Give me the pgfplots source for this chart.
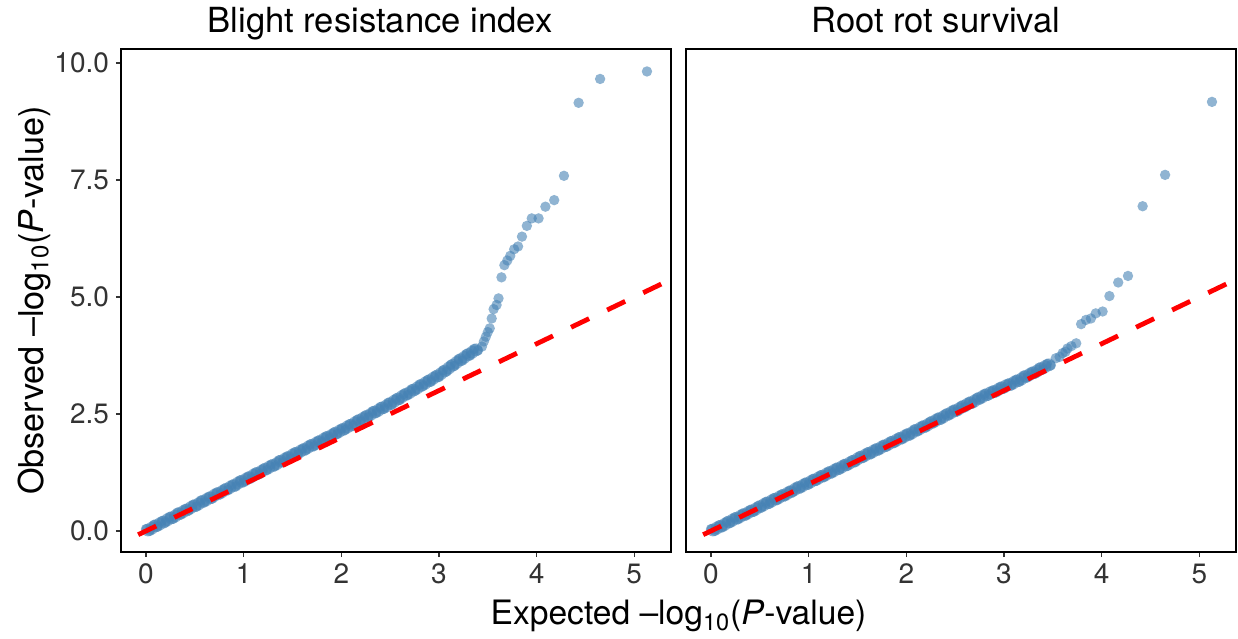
\documentclass[border=0pt]{standalone}
\usepackage{pgfplots}
\pgfplotsset{compat=1.18}
\usepackage{pgfplotstable}
\usepackage{fontspec}
\setmainfont{TeX Gyre Heros}

\definecolor{steelblue}{RGB}{70,130,180}
\definecolor{tickgray}{RGB}{51,51,51}

% observed vs expected -log10(P), blight resistance index
\pgfplotstableread{
x y
0.00 0.04
0.04 0.00
0.08 0.13
0.12 0.09
0.16 0.21
0.20 0.18
0.24 0.30
0.28 0.26
0.32 0.39
0.36 0.35
0.40 0.47
0.44 0.44
0.48 0.56
0.52 0.52
0.56 0.65
0.60 0.61
0.64 0.73
0.68 0.69
0.72 0.82
0.76 0.78
0.80 0.90
0.84 0.87
0.88 0.99
0.92 0.95
0.96 1.08
1.00 1.04
1.04 1.16
1.08 1.13
1.12 1.25
1.16 1.21
1.20 1.33
1.24 1.30
1.28 1.42
1.32 1.38
1.36 1.51
1.40 1.47
1.44 1.59
1.48 1.55
1.52 1.68
1.56 1.64
1.60 1.76
1.64 1.73
1.68 1.85
1.72 1.81
1.76 1.93
1.80 1.90
1.84 2.02
1.88 1.98
1.92 2.10
1.96 2.07
2.00 2.19
2.04 2.16
2.08 2.28
2.12 2.25
2.16 2.37
2.20 2.34
2.24 2.46
2.28 2.43
2.32 2.56
2.36 2.52
2.40 2.65
2.44 2.61
2.48 2.74
2.52 2.70
2.56 2.83
2.60 2.80
2.64 2.93
2.68 2.90
2.72 3.03
2.76 3.00
2.80 3.13
2.84 3.10
2.88 3.22
2.92 3.19
2.96 3.32
3.00 3.29
3.04 3.43
3.08 3.41
3.12 3.55
3.16 3.53
3.20 3.67
3.24 3.64
3.28 3.78
3.32 3.75
3.36 3.89
3.40 3.86
3.44 3.94
3.46 4.05
3.48 4.15
3.50 4.25
3.52 4.33
3.54 4.54
3.56 4.74
3.59 4.83
3.61 4.97
3.64 5.42
3.67 5.68
3.70 5.78
3.73 5.88
3.77 6.02
3.81 6.08
3.85 6.29
3.90 6.52
3.95 6.68
4.02 6.68
4.09 6.93
4.18 7.07
4.28 7.59
4.43 9.15
4.65 9.66
5.13 9.82
}\blight

% centre of the dense band, blight
\pgfplotstableread{
x y
0.02 0.02
0.06 0.06
0.10 0.11
0.14 0.15
0.18 0.19
0.22 0.24
0.26 0.28
0.30 0.32
0.34 0.37
0.38 0.41
0.42 0.45
0.46 0.50
0.50 0.54
0.54 0.58
0.58 0.63
0.62 0.67
0.66 0.71
0.70 0.76
0.74 0.80
0.78 0.84
0.82 0.89
0.86 0.93
0.90 0.97
0.94 1.02
0.98 1.06
1.02 1.10
1.06 1.14
1.10 1.19
1.14 1.23
1.18 1.27
1.22 1.32
1.26 1.36
1.30 1.40
1.34 1.44
1.38 1.49
1.42 1.53
1.46 1.57
1.50 1.62
1.54 1.66
1.58 1.70
1.62 1.74
1.66 1.79
1.70 1.83
1.74 1.87
1.78 1.91
1.82 1.96
1.86 2.00
1.90 2.04
1.94 2.09
1.98 2.13
2.02 2.17
2.06 2.22
2.10 2.26
2.14 2.31
2.18 2.36
2.22 2.40
2.26 2.45
2.30 2.49
2.34 2.54
2.38 2.58
2.42 2.63
2.46 2.67
2.50 2.72
2.54 2.77
2.58 2.82
2.62 2.87
2.66 2.92
2.70 2.96
2.74 3.01
2.78 3.06
2.82 3.11
2.86 3.16
2.90 3.21
2.94 3.26
2.98 3.31
3.02 3.36
3.06 3.42
3.10 3.48
3.14 3.54
3.18 3.60
3.22 3.66
3.26 3.71
3.30 3.77
3.34 3.82
3.38 3.87
}\blightmid

% root rot survival
\pgfplotstableread{
x y
0.00 0.04
0.04 0.00
0.08 0.12
0.12 0.08
0.16 0.20
0.20 0.17
0.24 0.29
0.28 0.25
0.32 0.37
0.36 0.33
0.40 0.45
0.44 0.41
0.48 0.53
0.52 0.50
0.56 0.62
0.60 0.58
0.64 0.70
0.68 0.66
0.72 0.78
0.76 0.74
0.80 0.86
0.84 0.83
0.88 0.95
0.92 0.91
0.96 1.03
1.00 0.99
1.04 1.11
1.08 1.07
1.12 1.19
1.16 1.15
1.20 1.27
1.24 1.23
1.28 1.35
1.32 1.31
1.36 1.43
1.40 1.39
1.44 1.51
1.48 1.47
1.52 1.60
1.56 1.56
1.60 1.68
1.64 1.64
1.68 1.76
1.72 1.72
1.76 1.84
1.80 1.80
1.84 1.92
1.88 1.88
1.92 2.00
1.96 1.96
2.00 2.08
2.04 2.04
2.08 2.17
2.12 2.13
2.16 2.25
2.20 2.21
2.24 2.33
2.28 2.30
2.32 2.42
2.36 2.38
2.40 2.50
2.44 2.47
2.48 2.59
2.52 2.55
2.56 2.67
2.60 2.64
2.64 2.76
2.68 2.72
2.72 2.84
2.76 2.81
2.80 2.93
2.84 2.89
2.88 3.00
2.92 2.96
2.96 3.08
3.00 3.04
3.04 3.15
3.08 3.11
3.12 3.23
3.16 3.19
3.20 3.32
3.24 3.28
3.28 3.40
3.32 3.36
3.36 3.49
3.40 3.45
3.44 3.57
3.48 3.54
3.53 3.69
3.57 3.72
3.60 3.80
3.63 3.83
3.65 3.90
3.69 3.95
3.74 4.01
3.79 4.42
3.84 4.51
3.89 4.54
3.94 4.65
4.01 4.69
4.08 5.02
4.17 5.31
4.27 5.45
4.42 6.94
4.65 7.61
5.13 9.17
}\rootrot

% centre of the dense band, root rot
\pgfplotstableread{
x y
0.02 0.02
0.06 0.06
0.10 0.10
0.14 0.14
0.18 0.19
0.22 0.23
0.26 0.27
0.30 0.31
0.34 0.35
0.38 0.39
0.42 0.43
0.46 0.47
0.50 0.52
0.54 0.56
0.58 0.60
0.62 0.64
0.66 0.68
0.70 0.72
0.74 0.76
0.78 0.80
0.82 0.84
0.86 0.89
0.90 0.93
0.94 0.97
0.98 1.01
1.02 1.05
1.06 1.09
1.10 1.13
1.14 1.17
1.18 1.21
1.22 1.25
1.26 1.29
1.30 1.33
1.34 1.37
1.38 1.41
1.42 1.45
1.46 1.49
1.50 1.54
1.54 1.58
1.58 1.62
1.62 1.66
1.66 1.70
1.70 1.74
1.74 1.78
1.78 1.82
1.82 1.86
1.86 1.90
1.90 1.94
1.94 1.98
1.98 2.02
2.02 2.06
2.06 2.10
2.10 2.15
2.14 2.19
2.18 2.23
2.22 2.27
2.26 2.32
2.30 2.36
2.34 2.40
2.38 2.44
2.42 2.49
2.46 2.53
2.50 2.57
2.54 2.61
2.58 2.66
2.62 2.70
2.66 2.74
2.70 2.78
2.74 2.83
2.78 2.87
2.82 2.91
2.86 2.95
2.90 2.98
2.94 3.02
2.98 3.06
3.02 3.10
3.06 3.13
3.10 3.17
3.14 3.21
3.18 3.25
3.22 3.30
3.26 3.34
3.30 3.38
3.34 3.42
3.38 3.47
3.42 3.51
3.46 3.55
}\rootmid

\begin{document}
\begin{tikzpicture}
\useasboundingbox (-60.5pt,-43pt) rectangle (558.5pt,276pt);

\pgfplotsset{
  qq/.style={
    scale only axis,
    width=275pt, height=251.5pt,
    xmin=-0.256, xmax=5.376,
    ymin=-0.45, ymax=10.3,
    clip mode=individual,
    xtick={0,1,2,3,4,5},
    ytick={0,2.5,5,7.5,10},
    tick align=outside,
    xtick pos=bottom, ytick pos=left,
    major tick length=2.5pt,
    tick style={tickgray, line width=0.6pt},
    axis line style={black, line width=1pt},
    tick label style={font=\fontsize{14}{16}\selectfont, text=tickgray},
    /pgf/number format/assume math mode=true,
    y tick label style={/pgf/number format/.cd, fixed, fixed zerofill, precision=1},
    every axis title/.style={at={(0.5,1)}, anchor=base, yshift=8pt,
      font=\fontsize{17.3}{20}\selectfont},
    every axis y label/.style={at={(axis description cs:-0.158,0.5)}, rotate=90, anchor=center,
      font=\fontsize{17.1}{20}\selectfont},
    every axis x label/.style={at={(axis description cs:-0.0136,-0.145)}, anchor=base,
      font=\fontsize{16.8}{20}\selectfont},
  },
  pts/.style={only marks, mark=*, mark size=2.6pt,
    mark options={fill=steelblue, draw=steelblue, fill opacity=0.6, draw opacity=0}},
  diag/.style={red, line width=2.4pt, dash pattern=on 10pt off 10pt},
}

\begin{axis}[qq, name=left,
  title={Blight resistance index},
  title style={xshift=-8pt},
  ylabel={Observed –log\textsubscript{10}(\textit{P}-value)}]
  \addplot[pts] table {\blight};
  \addplot[pts, mark size=3.2pt] table {\blightmid};
  \addplot[diag] coordinates {(-0.08,-0.08) (5.6,5.6)};
\end{axis}

\begin{axis}[qq, name=right, at={(282.5pt,0pt)},
  title={Root rot survival},
  title style={xshift=-12.5pt},
  ymajorticks=false,
  xlabel={Expected –log\textsubscript{10}(\textit{P}-value)}]
  \addplot[pts] table {\rootrot};
  \addplot[pts, mark size=3.2pt] table {\rootmid};
  \addplot[diag] coordinates {(-0.08,-0.08) (5.6,5.6)};
\end{axis}
\end{tikzpicture}
\end{document}
